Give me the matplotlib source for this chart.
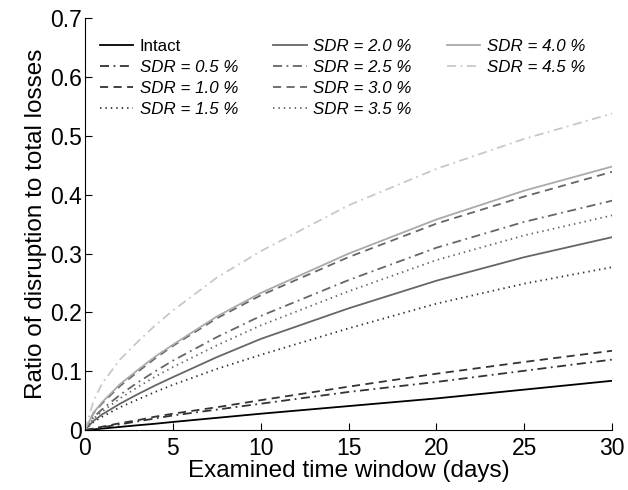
import numpy as np
import matplotlib
matplotlib.use('Agg')
import matplotlib.pyplot as plt
from matplotlib.lines import Line2D
from matplotlib.ticker import FormatStrFormatter

plt.rcParams['font.family'] = ['Liberation Sans', 'DejaVu Sans']

days = [0, 0.5, 1, 2, 3, 4, 5, 7.5, 10, 15, 20, 25, 30]

intact = [0, 0.0014, 0.0028, 0.0056, 0.0084, 0.011, 0.014, 0.021, 0.028, 0.041, 0.054, 0.069, 0.084]
sdr05 = [0, 0.0025, 0.005, 0.010, 0.015, 0.020, 0.025, 0.035, 0.045, 0.065, 0.082, 0.101, 0.120]
sdr10 = [0, 0.003, 0.006, 0.012, 0.017, 0.023, 0.028, 0.039, 0.051, 0.074, 0.096, 0.116, 0.135]
sdr15 = [0, 0.014, 0.023, 0.039, 0.052, 0.065, 0.077, 0.104, 0.128, 0.173, 0.215, 0.249, 0.277]
sdr20 = [0, 0.016, 0.027, 0.045, 0.061, 0.076, 0.090, 0.124, 0.155, 0.207, 0.254, 0.294, 0.328]
sdr25 = [0, 0.022, 0.036, 0.060, 0.081, 0.100, 0.118, 0.158, 0.194, 0.255, 0.310, 0.354, 0.390]
sdr30 = [0, 0.029, 0.046, 0.075, 0.099, 0.122, 0.143, 0.190, 0.229, 0.294, 0.351, 0.397, 0.439]
sdr35 = [0, 0.020, 0.032, 0.054, 0.073, 0.091, 0.107, 0.144, 0.178, 0.236, 0.289, 0.331, 0.365]
sdr40 = [0, 0.030, 0.048, 0.078, 0.102, 0.125, 0.145, 0.193, 0.233, 0.300, 0.358, 0.407, 0.448]
sdr45 = [0, 0.050, 0.080, 0.120, 0.150, 0.178, 0.203, 0.259, 0.304, 0.382, 0.444, 0.495, 0.538]

labels = ['Intact', 'SDR = 0.5 %', 'SDR = 1.0 %', 'SDR = 1.5 %',
          'SDR = 2.0 %', 'SDR = 2.5 %', 'SDR = 3.0 %', 'SDR = 3.5 %',
          'SDR = 4.0 %', 'SDR = 4.5 %']
series = [intact, sdr05, sdr10, sdr15, sdr20, sdr25, sdr30, sdr35, sdr40, sdr45]

solid = '-'
dashdot = (0, (5, 2.5, 1, 2.5))
dashed = (0, (4.5, 3))
dotted = (0, (0.8, 2.2))
styles = [solid, dashdot, dashed, dotted,
          solid, dashdot, dashed, dotted,
          solid, dashdot]
colors = ['#000000', '#333333', '#333333', '#333333',
          '#666666', '#666666', '#666666', '#666666',
          '#aaaaaa', '#c8c8c8']

fig = plt.figure(figsize=(6.28, 4.9), dpi=100)
ax = fig.add_axes([0.135, 0.122, 0.84, 0.841])

handles = []
for y, lab, ls, c in zip(series, labels, styles, colors):
    h, = ax.plot(days, y, linestyle=ls, color=c, lw=1.3, label=lab)
    handles.append(h)

ax.set_xlim(0, 30)
ax.set_ylim(0, 0.7)
ax.set_xticks([0, 5, 10, 15, 20, 25, 30])
ax.set_yticks(np.arange(0, 0.71, 0.1))
ax.yaxis.set_major_formatter(FormatStrFormatter('%g'))
ax.spines['top'].set_visible(False)
ax.spines['right'].set_visible(False)
ax.tick_params(direction='in', length=5, labelsize=16.5)
ax.tick_params(axis='x', pad=5)
ax.tick_params(axis='y', pad=2)
ax.set_xlabel('Examined time window (days)', fontsize=17.5, labelpad=0)
ax.set_ylabel('Ratio of disruption to total losses', fontsize=17.5, labelpad=2)

# two empty slots so the third column holds only 4.0 and 4.5
blank = Line2D([], [], linestyle='none')
leg = ax.legend(handles + [blank, blank], labels + ['', ''],
                loc='upper left', bbox_to_anchor=(0.028, 0.95), ncol=3,
                frameon=False, borderpad=0, borderaxespad=0,
                handlelength=1.95, handletextpad=0.41, columnspacing=2.1,
                labelspacing=0.36, prop={'size': 12.2})
for t in leg.get_texts():
    if t.get_text() != 'Intact':
        t.set_style('italic')

fig.savefig('out.png', dpi=100)
